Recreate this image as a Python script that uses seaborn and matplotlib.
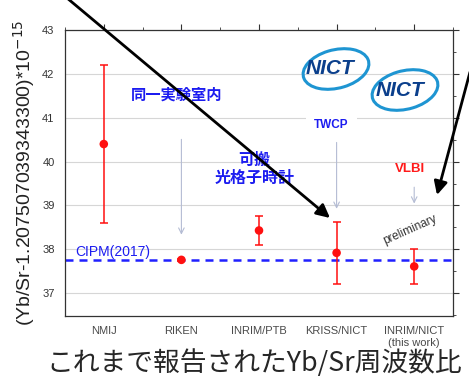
import matplotlib.pyplot as plt
import numpy as np
import pandas as pd
import seaborn as sns
from matplotlib.patches import Ellipse

sns.set_style('white')
plt.rcParams['font.family'] = ['Liberation Sans', 'Noto Sans CJK JP', 'DejaVu Sans']

# data
labs = ['NMIJ', 'RIKEN', 'INRIM/PTB', 'KRISS/NICT', 'INRIM/NICT\n(this work)']
ratio = [40.4, 37.76, 38.43, 37.92, 37.61]
err = [1.8, 0.03, 0.33, 0.7, 0.4]
cipm = 37.76
df = pd.DataFrame({'lab': labs, 'ratio': ratio, 'err': err})

fig = plt.figure(figsize=(4.69, 3.9), dpi=100)
ax = fig.add_axes([65/469, 1-316/390, 388/469, 286/390])

ax.errorbar(np.arange(len(labs)), df['ratio'], yerr=df['err'], fmt='none',
            ecolor='#ff1010', elinewidth=1.1, capsize=2.8, capthick=1.1, zorder=3)
sns.scatterplot(x='lab', y='ratio', data=df, color='#ff1010', s=38,
                edgecolor='none', ax=ax, zorder=4)
ax.axhline(cipm, color='#2020ff', lw=1.8, dashes=(3.2, 2.4), zorder=2)

ax.set(xlim=(-0.5, 4.5), ylim=(36.48, 43), xlabel='',
       ylabel='(Yb/Sr-1.207507039343300)*10$^{-15}$')
ax.yaxis.label.set_size(14)
ax.yaxis.label.set_color('#222222')
ax.set_yticks([37, 38, 39, 40, 41, 42, 43])
ax.set_yticks(np.arange(36.5, 43.01, 0.5), minor=True)
ax.set_xticks(np.arange(-0.5, 4.6, 1), minor=True)
ax.grid(axis='y', color='#d6d6d6', lw=0.8)
ax.set_axisbelow(True)
for s in ax.spines.values():
    s.set_color('#333333')
    s.set_linewidth(0.9)
ax.tick_params(axis='both', which='both', labelsize=8, colors='#333333',
               direction='out', top=True, right=True)
ax.tick_params(axis='both', which='major', length=4)
ax.tick_params(axis='both', which='minor', length=2.5)
for t in ax.get_xticklabels():
    t.set_color('#4a4a4a')

# annotations
blue = '#1c1cf0'
ax.text(0.94, 41.52, '同一実験室内', color=blue, fontsize=11, fontweight='bold',
        ha='center', va='center')
ax.text(1.94, 39.82, '可搬\n光格子時計', color=blue, fontsize=11.5, fontweight='bold',
        ha='center', va='center', linespacing=1.25)
ax.text(2.93, 40.84, 'TWCP', color=blue, fontsize=8.5, fontweight='bold',
        ha='center', va='center',
        bbox=dict(facecolor='white', edgecolor='none', pad=6))
ax.text(3.95, 39.84, 'VLBI', color='#ff1a1a', fontsize=9.5, fontweight='bold',
        ha='center', va='center')
ax.text(3.95, 38.45, 'preliminary', color='#333333', fontsize=8.5, rotation=24,
        ha='center', va='center')
ax.text(-0.37, 37.95, 'CIPM(2017)', color=blue, fontsize=10, ha='left', va='center')

# light arrows from labels
gray = '#b4bcd4'
for x0, y0, y1 in [(1, 40.57, 38.27), (3, 40.5, 38.86), (4, 39.48, 38.98)]:
    ax.annotate('', xy=(x0, y1), xytext=(x0, y0),
                arrowprops=dict(arrowstyle='->', color=gray, lw=0.8))

# NICT logos
for ex, ey, tx in [(336, 69, 330), (405, 90, 400)]:
    fig.patches.append(Ellipse((ex/469, 1-ey/390), 68/469, 38/390, angle=20,
                               transform=fig.transFigure, fill=False,
                               edgecolor='#1e95d2', lw=2.2))
    fig.text(tx/469, 1-ey/390, 'NICT', color='#0b3f8c', fontsize=15,
             fontweight='heavy', style='italic', ha='center', va='center')

# black arrows
ax.annotate('', xy=(330, 390-218), xytext=(67, 392), xycoords='figure pixels',
            textcoords='figure pixels', annotation_clip=False,
            arrowprops=dict(arrowstyle='-|>', color='black', lw=2, mutation_scale=20,
                            shrinkA=0, shrinkB=0))
ax.annotate('', xy=(437, 390-195), xytext=(470, 390-72), xycoords='figure pixels',
            textcoords='figure pixels', annotation_clip=False,
            arrowprops=dict(arrowstyle='-|>', color='black', lw=2, mutation_scale=20,
                            shrinkA=0, shrinkB=0))

fig.text(46/469, 1-363/390, 'これまで報告されたYb/Sr周波数比', fontsize=19.3,
         family=['Noto Sans CJK JP', 'DejaVu Sans'], ha='left', va='center')

fig.savefig('out.png', dpi=100)
